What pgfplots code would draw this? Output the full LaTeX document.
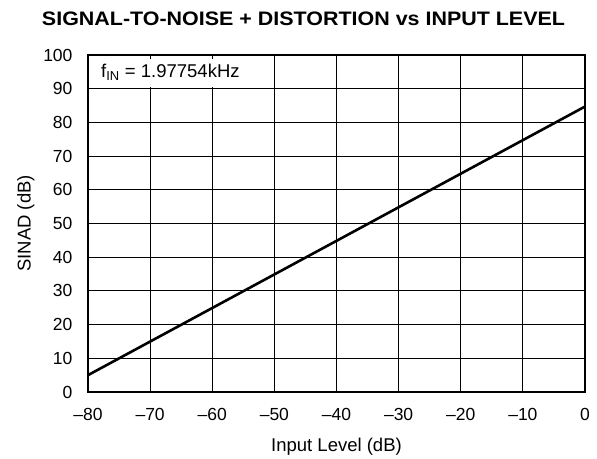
\documentclass[border=0pt]{standalone}
\usepackage{fontspec}
\setmainfont{Liberation Sans}
\usepackage{pgfplots}
\pgfplotsset{compat=1.18}
\begin{document}
\begin{tikzpicture}
\begin{axis}[
  name=main,
  scale only axis,
  width=497pt, height=337pt,
  xmin=-80, xmax=0, ymin=0, ymax=100,
  xtick={-80,-70,...,0},
  xticklabels={--80,--70,--60,--50,--40,--30,--20,--10,0},
  ytick={0,10,...,100},
  yticklabels={0,10,20,30,40,50,60,70,80,90,100},
  grid=major,
  major grid style={black, line width=0.9pt},
  axis line style={black, line width=2.4pt},
  tick style={black, line width=0.9pt},
  major tick length=4pt,
  tick label style={font=\fontsize{17.5}{20}\selectfont},
  xticklabel style={yshift=-13pt},
  yticklabel style={xshift=-12pt},
  label style={font=\fontsize{18.5}{21}\selectfont},
  xlabel={Input Level (dB)},
  ylabel={SINAD (dB)},
  xlabel style={yshift=-10pt},
  ylabel style={yshift=2pt},
  clip=false,
]
\fill[white] (axis cs:-79.5,90.4) rectangle (axis cs:-50.25,99.5);
\draw[black, line width=0.9pt] (axis cs:-70,100) -- ([yshift=-4pt]axis cs:-70,100);
\draw[black, line width=0.9pt] (axis cs:-60,100) -- ([yshift=-4pt]axis cs:-60,100);
\node[anchor=west, font=\fontsize{18.5}{21}\selectfont, inner sep=0pt] at (axis cs:-77.9,95) {f\textsubscript{IN} = 1.97754kHz};
\addplot[black, line width=2.6pt] coordinates {(-80,5) (0,84.7)};
\end{axis}
\node[anchor=base, inner sep=0pt, font=\fontsize{19.5}{22}\selectfont\bfseries] at ([xshift=-33pt,yshift=29pt]main.north) {\scalebox{1.1}[1]{SIGNAL-TO-NOISE + DISTORTION vs INPUT LEVEL}};
\path[use as bounding box] ([xshift=-88pt,yshift=-64pt]main.south west) rectangle ([xshift=12pt,yshift=55pt]main.north east);
\end{tikzpicture}
\end{document}
